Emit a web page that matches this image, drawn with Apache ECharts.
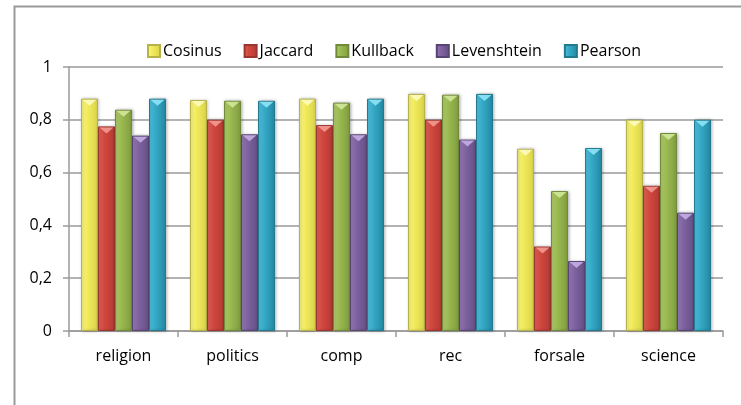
<!DOCTYPE html>
<html>
<head>
<meta charset="utf-8">
<script src="https://cdn.jsdelivr.net/npm/echarts@6/dist/echarts.min.js"></script>
<style>
  html, body { margin: 0; padding: 0; background: #fff; }
  #chart { width: 741px; height: 405px; }
</style>
</head>
<body>
<div id="chart"></div>
<script>
// Similarity scores per newsgroup category for each measure
const categories = ['religion', 'politics', 'comp', 'rec', 'forsale', 'science'];
const cosinus     = [0.88, 0.875, 0.88, 0.898, 0.69, 0.80];
const jaccard     = [0.775, 0.80, 0.78, 0.80, 0.32, 0.55];
const kullback    = [0.838, 0.872, 0.865, 0.895, 0.53, 0.75];
const levenshtein = [0.74, 0.745, 0.745, 0.725, 0.265, 0.448];
const pearson     = [0.88, 0.872, 0.88, 0.898, 0.693, 0.80];
const yTicks = [0, 0.2, 0.4, 0.6, 0.8, 1];

const measures = [
  { name: 'Cosinus',     data: cosinus,     light: '#fbf78a', base: '#f2ec5c', dark: '#d9d34a', edge: '#b8b24a', cap: '#fdfbc0' },
  { name: 'Jaccard',     data: jaccard,     light: '#e2665d', base: '#d2483f', dark: '#b23a33', edge: '#9a3630', cap: '#f39a92' },
  { name: 'Kullback',    data: kullback,    light: '#b5d070', base: '#9cbb52', dark: '#809d3e', edge: '#6f8a3a', cap: '#d3e89a' },
  { name: 'Levenshtein', data: levenshtein, light: '#9a7dbc', base: '#8064a2', dark: '#654f84', edge: '#574472', cap: '#c4aee2' },
  { name: 'Pearson',     data: pearson,     light: '#53c4e0', base: '#36abc8', dark: '#2388a3', edge: '#237a90', cap: '#8fe4f6' }
];

const chart = echarts.init(document.getElementById('chart'));
const font = '"Open Sans", Lato, sans-serif';
const CAT_GAP = '22%';

function barFill(m) {
  return new echarts.graphic.LinearGradient(0, 0, 1, 0, [
    { offset: 0, color: m.light },
    { offset: 0.35, color: m.base },
    { offset: 1, color: m.dark }
  ]);
}

const barSeries = measures.map(m => ({
  name: m.name,
  type: 'bar',
  data: m.data,
  barGap: '0%',
  barCategoryGap: CAT_GAP,
  itemStyle: {
    color: barFill(m),
    borderColor: m.edge,
    borderWidth: 1,
    shadowColor: 'rgba(0,0,0,0.25)',
    shadowBlur: 3,
    shadowOffsetX: 1
  }
}));

// Bevelled caps: a small light triangle at the top of each bar
const capSeries = measures.map(m => ({
  name: m.name,
  type: 'pictorialBar',
  data: m.data,
  barGap: '0%',
  barCategoryGap: CAT_GAP,
  symbol: 'path://M0,0 L10,0 L5,4 Z',
  symbolSize: [14, 6],
  symbolPosition: 'end',
  symbolOffset: [0, 1],
  itemStyle: { color: m.cap, opacity: 0.9 },
  silent: true,
  z: 3
}));

chart.setOption({
  animation: false,
  backgroundColor: '#ffffff',
  graphic: [{
    type: 'rect',
    left: 12, top: 4,
    shape: { width: 760, height: 440 },
    style: { fill: 'none', stroke: '#9a9a9a', lineWidth: 2 },
    silent: true,
    z: 100
  }],
  legend: {
    top: 38,
    left: 142,
    itemWidth: 12,
    itemHeight: 12,
    itemGap: 22,
    textStyle: { fontFamily: font, fontSize: 16, color: '#000', padding: [0, 0, 0, -2] },
    data: measures.map(m => ({ name: m.name, icon: 'rect' }))
  },
  grid: { left: 69, right: 18, top: 67, bottom: 74, containLabel: false },
  xAxis: {
    type: 'category',
    data: categories,
    axisLine: { lineStyle: { color: '#9a9a9a', width: 1.5 } },
    axisTick: { show: true, length: 6, lineStyle: { color: '#9a9a9a', width: 1.5 } },
    axisLabel: { fontFamily: font, fontSize: 16, color: '#000', margin: 17 }
  },
  yAxis: {
    type: 'value',
    min: yTicks[0],
    max: yTicks[yTicks.length - 1],
    interval: 0.2,
    axisLine: { show: true, lineStyle: { color: '#9a9a9a', width: 1.5 } },
    axisTick: { show: true, length: 6, lineStyle: { color: '#9a9a9a', width: 1.5 } },
    splitLine: { lineStyle: { color: '#9a9a9a', width: 1.5 } },
    axisLabel: {
      fontFamily: font, fontSize: 16, color: '#000', margin: 17,
      formatter: v => String(Math.round(v * 10) / 10).replace('.', ',')
    }
  },
  series: barSeries.concat(capSeries)
});
</script>
</body>
</html>
